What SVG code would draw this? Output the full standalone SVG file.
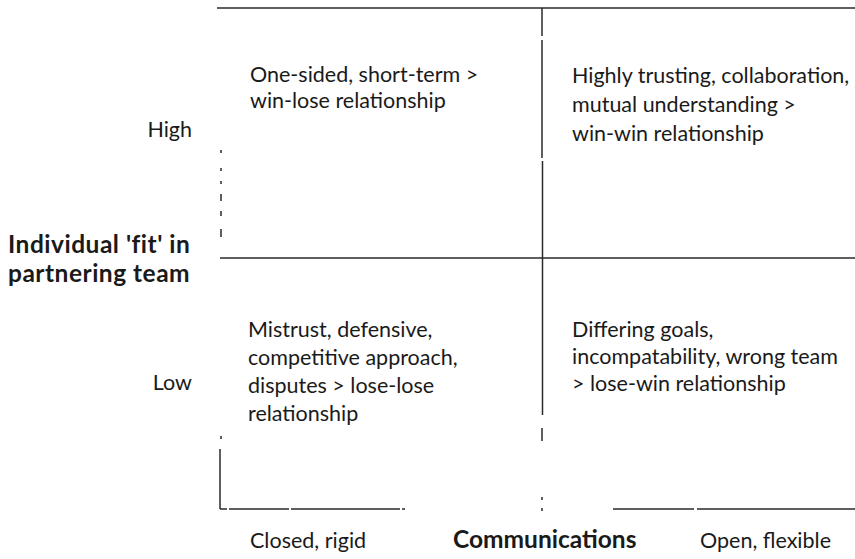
<svg xmlns="http://www.w3.org/2000/svg" width="855" height="559" viewBox="0 0 855 559">
<style>
.t{font-family:Lato,"Open Sans","Liberation Sans",sans-serif;font-size:21.5px;fill:#1a1a1a}
.b{font-family:Lato,"Open Sans","Liberation Sans",sans-serif;font-size:24.5px;font-weight:bold;fill:#1a1a1a}
.sp{letter-spacing:0.5px}
.r{text-anchor:end}
.ln{stroke:#2a2a2a;stroke-width:1.5;fill:none}
.dt{stroke:#2a2a2a;stroke-width:1.5;fill:none}
</style>
<rect width="855" height="559" fill="#ffffff"/>
<g id="connectors">
<path class="ln" d="M217 8H855"/>
<path class="ln" d="M542 8V36M542 40V158M542.5 161V415M542 428V441"/>
<path class="dt" d="M542 497V500M542 508V511"/>
<path class="ln" d="M220 258H855"/>
<path class="dt" d="M221 150V153M221 168V171M221 181V184M221 194V201M221 211V216M221 229V237M221 436V439"/>
<path class="ln" d="M220 449V509"/>
<path class="ln" d="M220 509H227M229 509H289M291 509H400M402 509H405"/>
<path class="ln" d="M613 509H694M697 509H855"/>
</g>
<g id="axis-y">
<text class="t r" x="192" y="137">High</text>
<text class="b sp" x="8" y="253">Individual 'fit' in</text>
<text class="b sp" x="8" y="282">partnering team</text>
<text class="t r" x="192" y="390">Low</text>
</g>
<g id="axis-x">
<text class="t" x="250" y="548">Closed, rigid</text>
<text class="b" x="453" y="548">Communications</text>
<text class="t" x="700" y="548">Open, flexible</text>
</g>
<g id="q-top-left">
<text class="t" x="250" y="82">One-sided, short-term &gt;</text>
<text class="t" x="250" y="108">win-lose relationship</text>
</g>
<g id="q-top-right">
<text class="t" x="572" y="83">Highly trusting, collaboration,</text>
<text class="t" x="572" y="112">mutual understanding &gt;</text>
<text class="t" x="572" y="141">win-win relationship</text>
</g>
<g id="q-bottom-left">
<text class="t" x="248" y="337">Mistrust, defensive,</text>
<text class="t" x="248" y="365">competitive approach,</text>
<text class="t" x="248" y="393">disputes &gt; lose-lose</text>
<text class="t" x="248" y="421">relationship</text>
</g>
<g id="q-bottom-right">
<text class="t" x="572" y="337">Differing goals,</text>
<text class="t" x="572" y="364">incompatability, wrong team</text>
<text class="t" x="572" y="391">&gt; lose-win relationship</text>
</g>
</svg>
